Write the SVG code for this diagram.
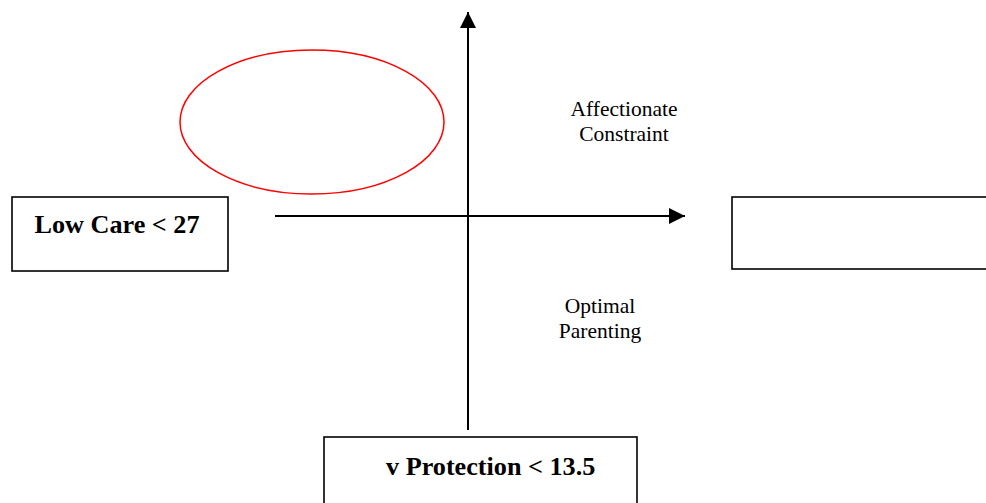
<svg xmlns="http://www.w3.org/2000/svg" width="986" height="503" viewBox="0 0 986 503">
<style>
.box{fill:#fff;stroke:#000;stroke-width:1.6}
.axis{stroke:#000;stroke-width:2;fill:none}
.lbl{font-family:"Liberation Serif",serif;font-size:21.5px;fill:#000;text-anchor:middle}
.big{font-family:"Liberation Serif",serif;font-size:26.2px;font-weight:bold;fill:#000}
</style>
<defs>
<marker id="ah" viewBox="0 0 16 16" refX="16" refY="8" markerWidth="16" markerHeight="16" markerUnits="userSpaceOnUse" orient="auto">
<path d="M0,0 L16,8 L0,16 Z" fill="#000"/>
</marker>
</defs>
<rect width="986" height="503" fill="#fff"/>
<g id="connectors">
<line class="axis" x1="468" y1="430" x2="468" y2="12" marker-end="url(#ah)"/>
<line class="axis" x1="275" y1="216" x2="685" y2="216" marker-end="url(#ah)"/>
</g>
<g id="ellipse">
<ellipse cx="312" cy="122" rx="132" ry="72" fill="none" stroke="#f00" stroke-width="1.5"/>
</g>
<g id="low-care">
<rect class="box" x="12" y="197" width="216" height="74"/>
<text class="big" x="117" y="233" text-anchor="middle">Low Care &lt; 27</text>
</g>
<g id="right-box">
<rect class="box" x="732" y="197" width="260" height="72"/>
</g>
<g id="low-protection">
<rect class="box" x="324" y="437" width="313" height="80"/>
<text class="big" x="386" y="475">v Protection &lt; 13.5</text>
</g>
<g id="affectionate">
<text class="lbl" x="624" y="116">Affectionate</text>
<text class="lbl" x="624" y="141">Constraint</text>
</g>
<g id="optimal">
<text class="lbl" x="600" y="313">Optimal</text>
<text class="lbl" x="600" y="338">Parenting</text>
</g>
</svg>
